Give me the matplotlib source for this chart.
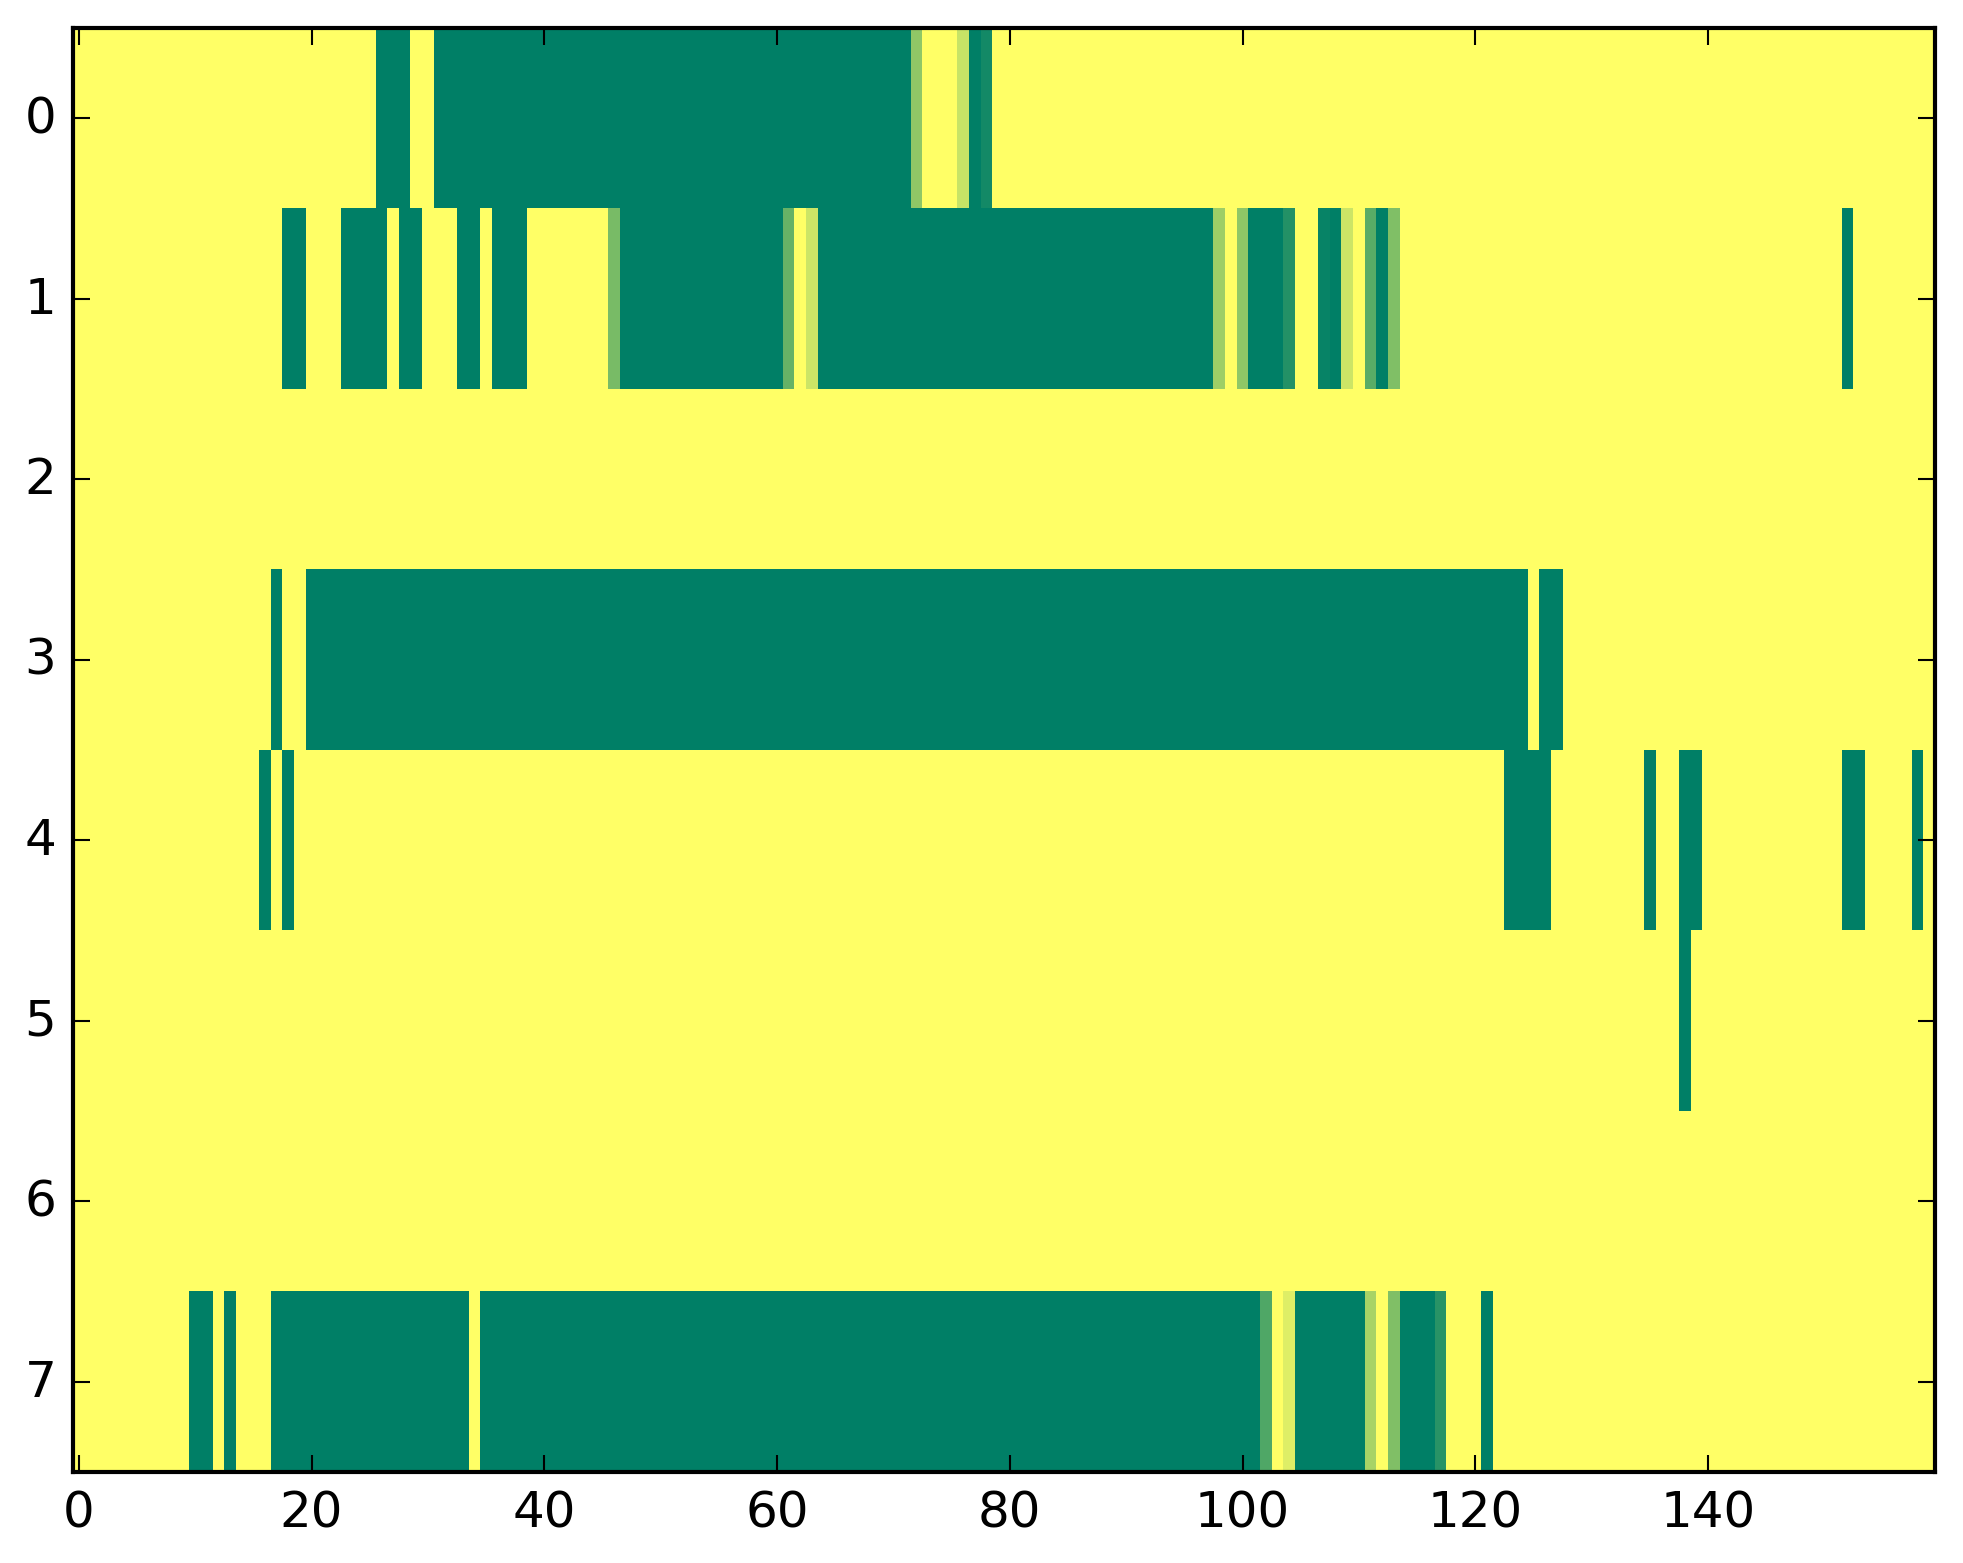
import numpy as np
import matplotlib
matplotlib.use('Agg')
import matplotlib.pyplot as plt

plt.style.use('classic')

# 每一行中不为1的区段: (起始列, 结束列, 数值)，其余格子为1
n_cols = 160
row0 = [(26, 28, 0.0), (31, 71, 0.0), (72, 72, 0.565), (76, 76, 0.78),
        (77, 77, 0.0), (78, 78, 0.075)]
row1 = [(18, 19, 0.0), (23, 26, 0.0), (28, 29, 0.0), (33, 34, 0.0), (36, 38, 0.0),
        (46, 46, 0.47), (47, 60, 0.0), (61, 61, 0.4), (63, 63, 0.8), (64, 97, 0.0),
        (98, 98, 0.62), (100, 100, 0.56), (101, 103, 0.0), (104, 104, 0.14),
        (107, 107, 0.03), (108, 108, 0.0), (109, 109, 0.8), (111, 111, 0.35),
        (112, 112, 0.0), (113, 113, 0.5), (152, 152, 0.0)]
row2 = []
row3 = [(17, 17, 0.0), (20, 124, 0.0), (126, 127, 0.0)]
row4 = [(16, 16, 0.0), (18, 18, 0.0), (123, 126, 0.0), (135, 135, 0.0),
        (138, 139, 0.0), (152, 153, 0.0), (158, 158, 0.0)]
row5 = [(138, 138, 0.0)]
row6 = []
row7 = [(10, 11, 0.0), (13, 13, 0.0), (17, 33, 0.0), (35, 101, 0.0),
        (102, 102, 0.31), (104, 104, 0.87), (105, 110, 0.0), (111, 111, 0.66),
        (113, 113, 0.5), (114, 116, 0.0), (117, 117, 0.16), (121, 121, 0.0)]
rows = [row0, row1, row2, row3, row4, row5, row6, row7]

data = np.ones((len(rows), n_cols))
for i, segs in enumerate(rows):
    for a, b, v in segs:
        data[i, a:b + 1] = v

W, H = 1963, 1564
fig = plt.figure(figsize=(W / 300, H / 300), dpi=300, facecolor='white')
ax = fig.add_axes([73 / W, 91 / H, 1862 / W, 1444 / H])
ax.imshow(data, cmap='summer', vmin=0, vmax=1, aspect='auto', interpolation='nearest')
ax.set_xlim(-0.5, n_cols - 0.5)
ax.set_ylim(len(rows) - 0.5, -0.5)
ax.set_xticks(np.arange(0, 141, 20))
ax.set_yticks(np.arange(0, 8))
fig.savefig('out.png', dpi=300, facecolor='white')
